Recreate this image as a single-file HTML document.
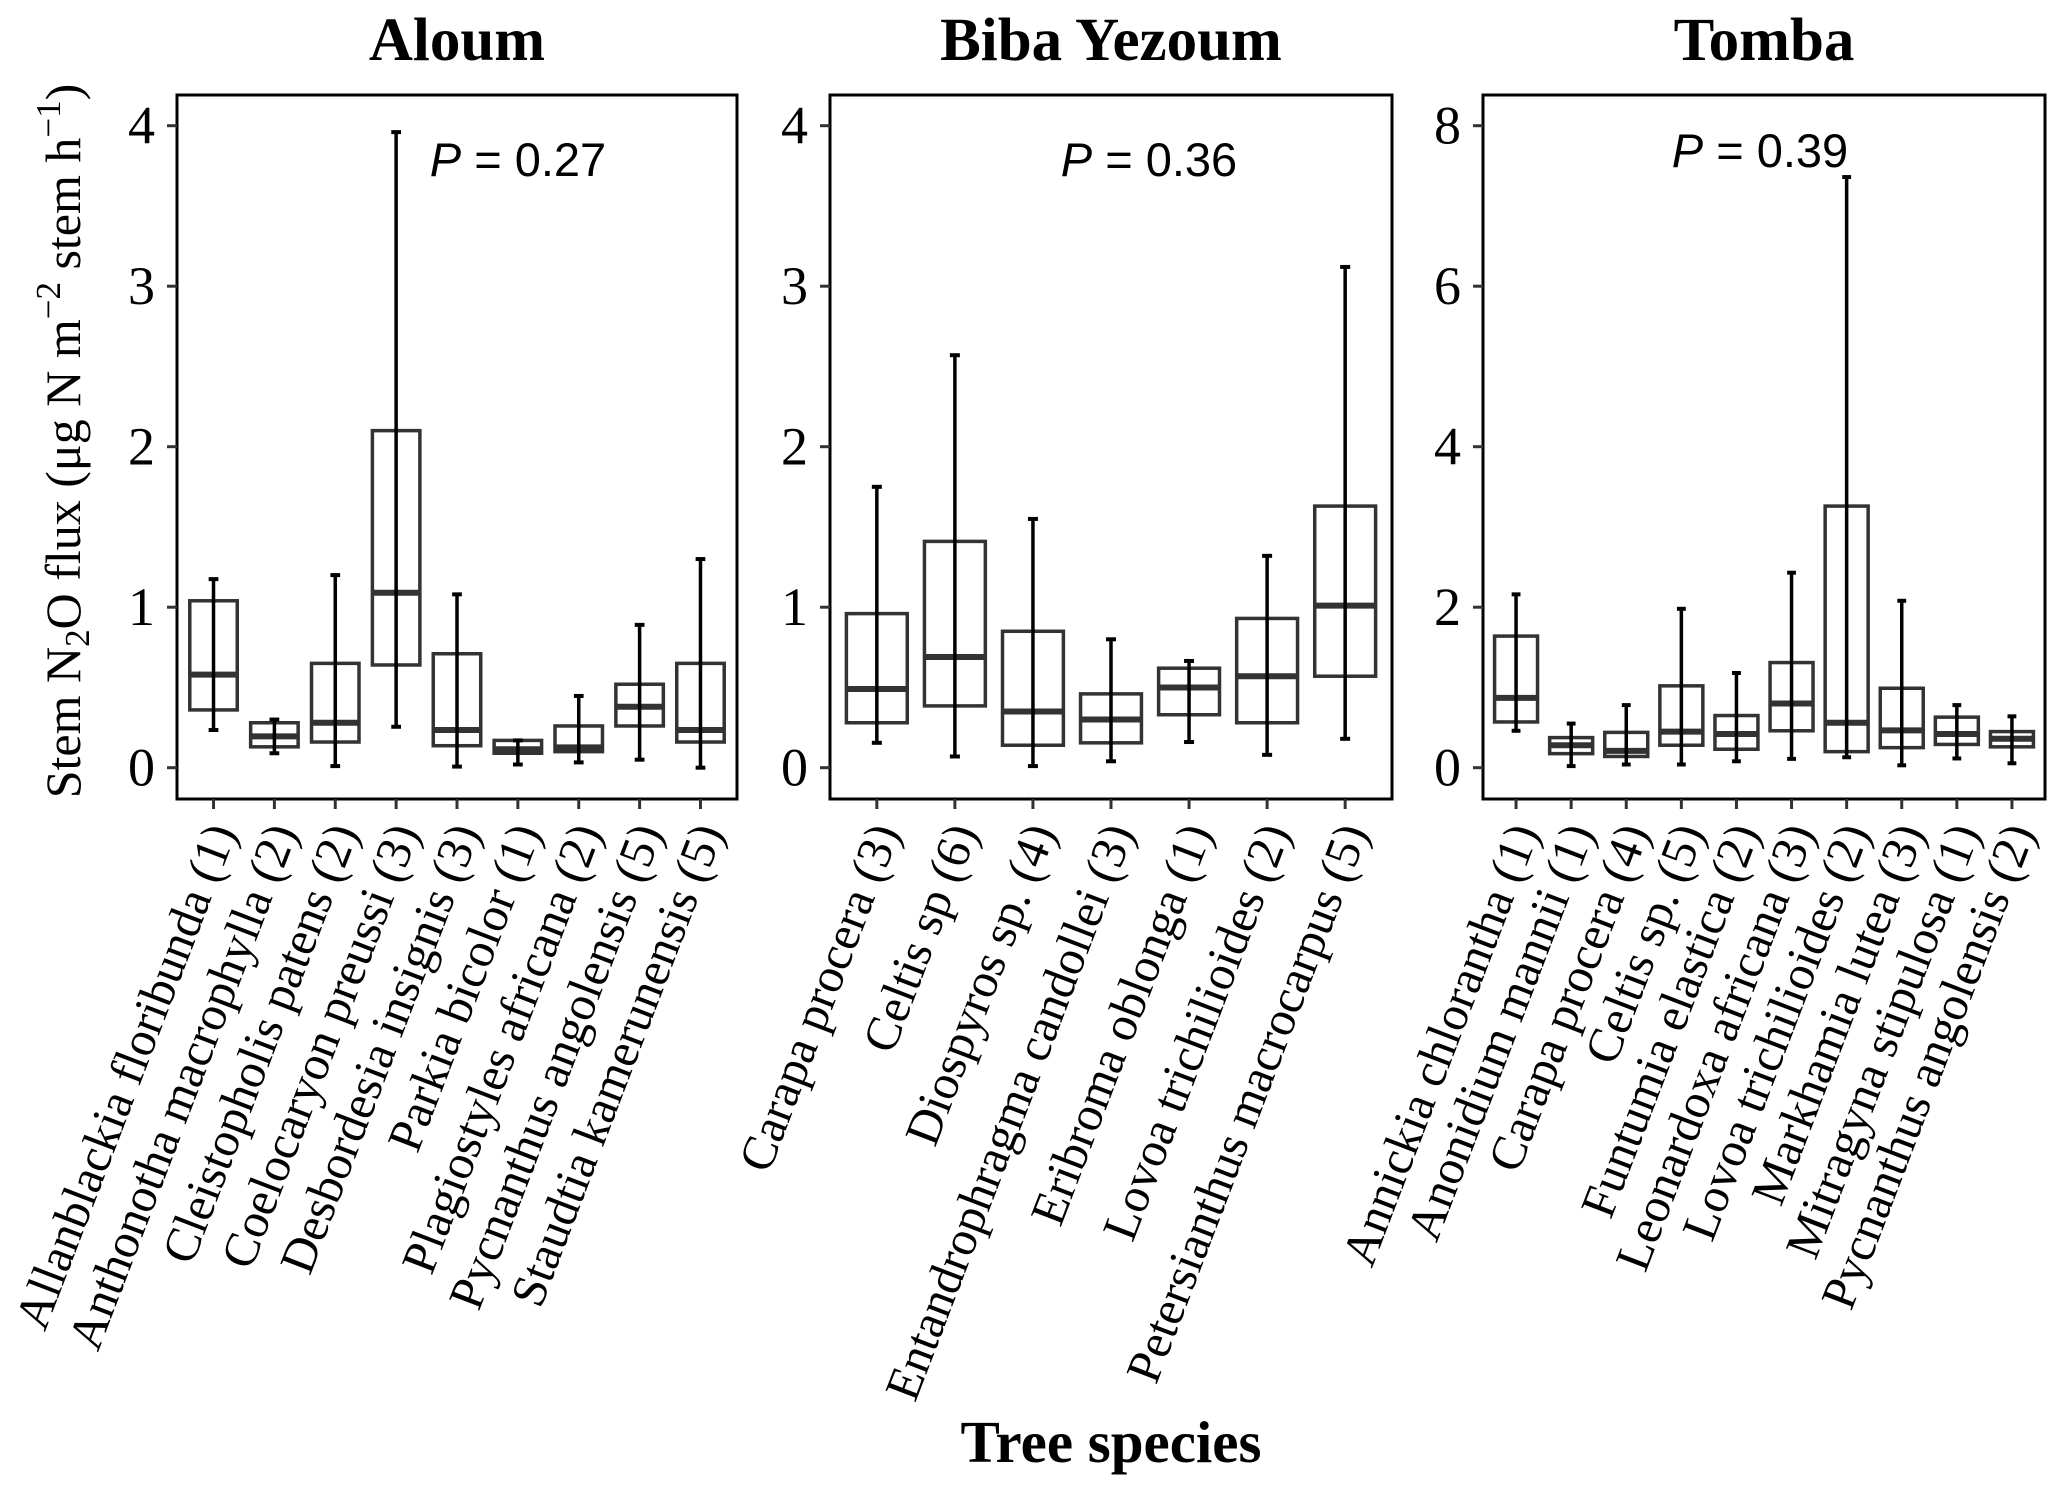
<!DOCTYPE html>
<html><head><meta charset="utf-8"><style>
html,body{margin:0;padding:0;background:#fff;}
svg{display:block;}
</style></head><body>
<svg id="chart" width="2067" height="1490" xmlns="http://www.w3.org/2000/svg"></svg>
<script>
// Aloum
const aloumSpecies = ["Allanblackia floribunda (1)","Anthonotha macrophylla (2)","Cleistopholis patens (2)","Coelocaryon preussi (3)","Desbordesia insignis (3)","Parkia bicolor (1)","Plagiostyles africana (2)","Pycnanthus angolensis (5)","Staudtia kamerunensis (5)"];
const aloumLow = [0.235,0.09,0.01,0.255,0.007,0.02,0.033,0.05,0.0];
const aloumQ1 = [0.36,0.13,0.16,0.64,0.137,0.09,0.10,0.26,0.16];
const aloumMed = [0.58,0.195,0.28,1.09,0.235,0.115,0.127,0.38,0.235];
const aloumQ3 = [1.04,0.28,0.65,2.10,0.71,0.17,0.26,0.52,0.65];
const aloumHigh = [1.175,0.30,1.20,3.96,1.08,0.17,0.447,0.89,1.30];
// Biba Yezoum
const bibaSpecies = ["Carapa procera (3)","Celtis sp (6)","Diospyros sp. (4)","Entandrophragma candollei (3)","Eribroma oblonga (1)","Lovoa trichilioides (2)","Petersianthus macrocarpus (5)"];
const bibaLow = [0.155,0.07,0.01,0.04,0.16,0.08,0.18];
const bibaQ1 = [0.28,0.385,0.14,0.155,0.33,0.28,0.57];
const bibaMed = [0.49,0.69,0.35,0.30,0.50,0.57,1.01];
const bibaQ3 = [0.96,1.41,0.85,0.46,0.62,0.93,1.63];
const bibaHigh = [1.75,2.57,1.55,0.80,0.665,1.32,3.12];
// Tomba
const tombaSpecies = ["Annickia chlorantha (1)","Anonidium mannii (1)","Carapa procera (4)","Celtis sp. (5)","Funtumia elastica (2)","Leonardoxa africana (3)","Lovoa trichilioides (2)","Markhamia lutea (3)","Mitragyna stipulosa (1)","Pycnanthus angolensis (2)"];
const tombaLow = [0.46,0.02,0.04,0.04,0.08,0.11,0.13,0.03,0.115,0.055];
const tombaQ1 = [0.57,0.175,0.14,0.28,0.23,0.46,0.20,0.25,0.29,0.26];
const tombaMed = [0.87,0.28,0.21,0.45,0.42,0.80,0.56,0.465,0.42,0.36];
const tombaQ3 = [1.64,0.375,0.44,1.02,0.65,1.31,3.26,0.99,0.63,0.45];
const tombaHigh = [2.16,0.55,0.78,1.98,1.18,2.43,7.36,2.08,0.78,0.64];
const aloumTicks = [0,1,2,3,4];
const bibaTicks = [0,1,2,3,4];
const tombaTicks = [0,2,4,6,8];

const NS="http://www.w3.org/2000/svg";
const svg=document.getElementById('chart');
function mk(tag,attrs,parent){const e=document.createElementNS(NS,tag);for(const k in attrs)e.setAttribute(k,attrs[k]);(parent||svg).appendChild(e);return e;}

const panels=[
 {title:"Aloum",key:"aloum",sp:aloumSpecies,lo:aloumLow,q1:aloumQ1,md:aloumMed,q3:aloumQ3,hi:aloumHigh,ticks:aloumTicks,left:177,right:737,pxU:160.5,p:"0.27",px:518,py:176},
 {title:"Biba Yezoum",key:"biba",sp:bibaSpecies,lo:bibaLow,q1:bibaQ1,md:bibaMed,q3:bibaQ3,hi:bibaHigh,ticks:bibaTicks,left:830,right:1392,pxU:160.5,p:"0.36",px:1149,py:176},
 {title:"Tomba",key:"tomba",sp:tombaSpecies,lo:tombaLow,q1:tombaQ1,md:tombaMed,q3:tombaQ3,hi:tombaHigh,ticks:tombaTicks,left:1483,right:2045,pxU:80.25,p:"0.39",px:1760,py:167}
];
const TOP=95,BOT=799,Y0=767.7;
const serif='"Liberation Serif", serif', sans='"Liberation Sans", sans-serif';

panels.forEach(P=>{
 const g=mk('g',{});
 
 
 const n=P.sp.length, step=(P.right-P.left)/(n+0.2);
 const xs=i=>P.left+(i+0.6)*step;
 const ys=v=>Y0-v*P.pxU;
 const t=mk('text',{x:(P.left+P.right)/2,y:60,'text-anchor':'middle','font-family':serif,'font-weight':'bold','font-size':61},g);
 t.textContent=P.title;
 
 
 const fr=mk('rect',{x:P.left,y:TOP,width:P.right-P.left,height:BOT-TOP,fill:'none',stroke:'#000','stroke-width':3},g);
 
 
 P.ticks.forEach(v=>{
  const y=ys(v);
  const tk=mk('line',{x1:P.left-10,x2:P.left,y1:y,y2:y,stroke:'#333','stroke-width':3},g);
  
  
  const tl=mk('text',{x:P.left-22,y:y+18,'text-anchor':'end','font-family':serif,'font-size':54,fill:'#000'},g);
  tl.textContent=v;
  
  
 });
 const bw=0.78*step, cw=Math.min(10,0.16*step);
 for(let i=0;i<n;i++){
  const x=xs(i);
  const bg=mk('g',{},g);
  
  
  mk('rect',{x:x-bw/2,y:ys(P.q3[i]),width:bw,height:ys(P.q1[i])-ys(P.q3[i]),fill:'#fff',stroke:'#333','stroke-width':3.5},bg);
  mk('line',{x1:x-bw/2,x2:x+bw/2,y1:ys(P.md[i]),y2:ys(P.md[i]),stroke:'#333','stroke-width':6},bg);
  mk('line',{x1:x,x2:x,y1:ys(P.lo[i]),y2:ys(P.hi[i]),stroke:'#000','stroke-width':3.5},bg);
  mk('line',{x1:x-cw/2,x2:x+cw/2,y1:ys(P.lo[i]),y2:ys(P.lo[i]),stroke:'#000','stroke-width':4},bg);
  mk('line',{x1:x-cw/2,x2:x+cw/2,y1:ys(P.hi[i]),y2:ys(P.hi[i]),stroke:'#000','stroke-width':4},bg);
  const xt=mk('line',{x1:x,x2:x,y1:BOT,y2:BOT+10,stroke:'#333','stroke-width':3},g);
  
  
  const xl=mk('text',{x:x+8,y:826,'text-anchor':'end','dominant-baseline':'central','font-family':serif,'font-size':49,transform:`rotate(-69 ${x+8} 826)`},g);
  xl.textContent=P.sp[i];
  
  
 }
 const pt=mk('text',{x:P.px,y:P.py,'text-anchor':'middle','font-family':sans,'font-size':47},g);
 pt.innerHTML='<tspan font-style="italic">P</tspan> = '+P.p;
 
 
});
const yt=mk('text',{x:0,y:0,'text-anchor':'middle','font-family':serif,'font-size':50,transform:'translate(80 441) rotate(-90)'});
yt.innerHTML='Stem N<tspan font-size="35" dy="9">2</tspan><tspan dy="-9">O flux (μg N m</tspan><tspan font-size="35" dy="-20">−2</tspan><tspan dy="20"> stem h</tspan><tspan font-size="35" dy="-20">−1</tspan><tspan dy="20">)</tspan>';


const xt=mk('text',{x:1111,y:1462,'text-anchor':'middle','font-family':serif,'font-weight':'bold','font-size':59});
xt.textContent='Tree species';


</script>
</body></html>
